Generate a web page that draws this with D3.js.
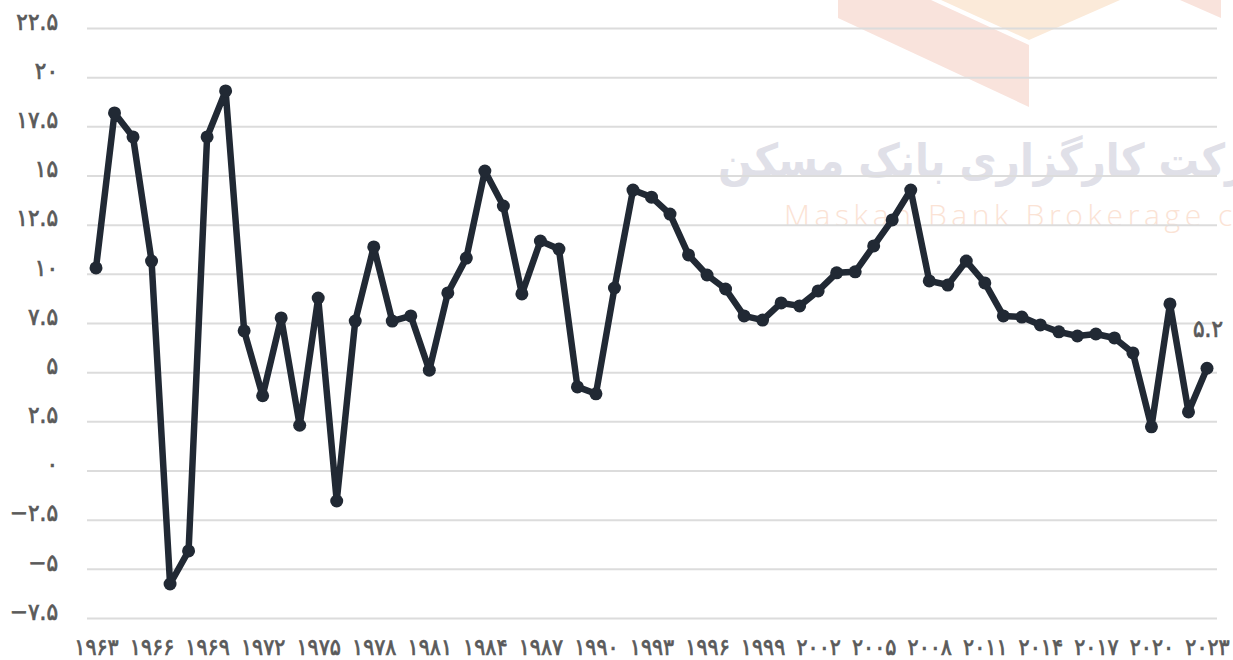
<!DOCTYPE html>
<html>
<head>
<meta charset="utf-8">
<style>
  html, body { margin: 0; padding: 0; background: #fff; overflow: hidden; }
  svg { display: block; }
  .tick text, .last-label { font-family: "DejaVu Sans Condensed", "DejaVu Sans", sans-serif; font-weight: 400; fill: #5a5a5a; stroke: #5a5a5a; stroke-width: 0.7px; }
</style>
</head>
<body>
<svg id="chart" width="1233" height="660"></svg>
<script src="https://cdn.jsdelivr.net/npm/d3@7"></script>
<script>
const years = d3.range(1963, 2024);
const growth = [
  10.3, 18.18, 16.96, 10.65, -5.77, -4.09, 16.96, 19.3, 7.1, 3.8,
  7.76, 2.3, 8.77, -1.55, 7.6, 11.37, 7.6, 7.86, 5.1, 9.03,
  10.8, 15.23, 13.45, 8.98, 11.67, 11.26, 4.25, 3.9, 9.28, 14.26,
  13.9, 13.04, 10.96, 9.94, 9.23, 7.86, 7.65, 8.52, 8.37, 9.13,
  10.05, 10.1, 11.42, 12.74, 14.26, 9.64, 9.43, 10.65, 9.54, 7.86,
  7.8, 7.4, 7.05, 6.84, 6.94, 6.74, 5.98, 2.22, 8.47, 2.98, 5.2
];
const yTicks = [-7.5, -5, -2.5, 0, 2.5, 5, 7.5, 10, 12.5, 15, 17.5, 20, 22.5];
const xTicks = years.filter((y, i) => i % 3 === 0);
const lastLabel = "۵.۲";

// logo shapes behind the chart, cut by the top edge
const logoRed = [[838, 0], [838, 18], [1029, 107], [1029, 45], [931, 0]];
const logoRedRight = [[1180, 0], [1221, 18], [1221, 0]];
const logoOrange = [[941, 0], [1029, 40], [1120, 0]];

const toPersian = s => String(s).replace(/\d/g, d => "۰۱۲۳۴۵۶۷۸۹"[d]).replace("-", "\u2212");

const svg = d3.select("#chart");

const x = d3.scaleLinear().domain([1963, 2023]).range([96, 1207]);
const y = d3.scaleLinear().domain([-7.5, 22.5]).range([618, 28]);

// watermark
const mark = svg.append("g");
[[logoRed, "#f9e3dc"], [logoRedRight, "#f9e3dc"], [logoOrange, "#fbead9"]].forEach(([pts, c]) => {
  mark.append("polygon").attr("points", pts.join(" ")).attr("fill", c);
});
mark.append("text")
  .attr("x", 1290).attr("y", 176)
  .attr("text-anchor", "end")
  .style("font-family", '"DejaVu Sans Condensed", "DejaVu Sans", sans-serif')
  .style("font-weight", 700)
  .style("font-size", "45px")
  .attr("fill", "#e0e0e8")
  .text("شرکت کارگزاری بانک مسکن");
mark.append("text")
  .attr("x", 784).attr("y", 226)
  .style("font-family", '"Open Sans", sans-serif')
  .style("font-weight", 300)
  .style("font-size", "30px")
  .style("letter-spacing", "4.6px")
  .attr("fill", "#fbe3d5")
  .text("Maskan Bank Brokerage co");

// y axis with full width grid
const yAxis = svg.append("g")
  .attr("transform", "translate(87,0)")
  .call(d3.axisLeft(y).tickValues(yTicks).tickSize(-1130).tickPadding(29).tickFormat(toPersian));
yAxis.select(".domain").remove();
yAxis.selectAll("line").attr("stroke", "#dcdcdc").attr("stroke-width", 2);
yAxis.selectAll("text").style("font-size", "24px").attr("dy", "0.05em");

// x axis labels only
const xAxis = svg.append("g")
  .attr("transform", "translate(0,635)")
  .call(d3.axisBottom(x).tickValues(xTicks).tickSize(0).tickPadding(4).tickFormat(d => toPersian(d)));
xAxis.select(".domain").remove();
xAxis.selectAll("text").style("font-size", "23px");

// series
const line = d3.line().x((d, i) => x(years[i])).y(d => y(d));
svg.append("path")
  .datum(growth)
  .attr("d", line)
  .attr("fill", "none")
  .attr("stroke", "#212934")
  .attr("stroke-width", 6.5)
  .attr("stroke-linejoin", "round");
svg.append("g").selectAll("circle")
  .data(growth)
  .join("circle")
  .attr("cx", (d, i) => x(years[i]))
  .attr("cy", d => y(d))
  .attr("r", 6.5)
  .attr("fill", "#212934");

// label of the last point
svg.append("text")
  .attr("class", "last-label")
  .attr("x", x(2023) + 16).attr("y", y(5.2) - 31)
  .attr("text-anchor", "end")
  .style("font-size", "24px")
  .text(lastLabel);
</script>
</body>
</html>
